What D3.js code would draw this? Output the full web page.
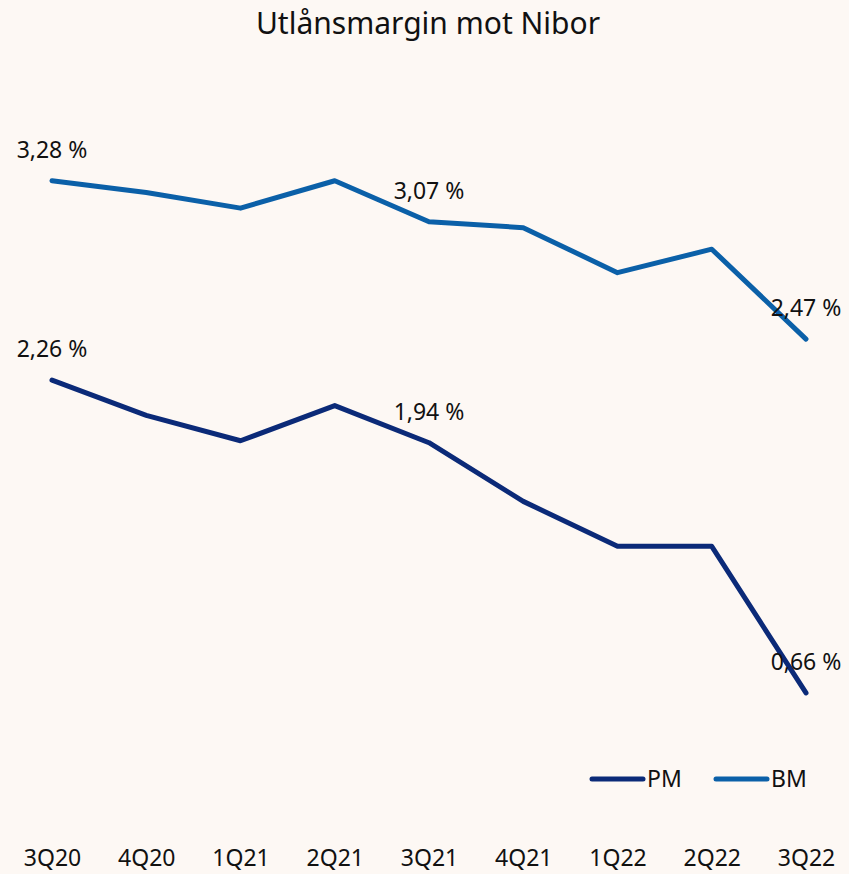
<!DOCTYPE html>
<html lang="no">
<head>
    <meta charset="UTF-8">
    <title>Utlånsmargin mot Nibor</title>
    <script src="https://d3js.org/d3.v7.min.js"></script>
    <style>
        body { margin: 0; background: #fdf8f4; }
        svg { display: block; font-family: "Noto Sans", "Lato", sans-serif; }
        .lbl { font-size: 23px; fill: #111; }
    </style>
</head>
<body>
    <svg width="849" height="874"></svg>
    <script>
        const quarters = ["3Q20", "4Q20", "1Q21", "2Q21", "3Q21", "4Q21", "1Q22", "2Q22", "3Q22"];
        const pm = [2.26, 2.08, 1.95, 2.13, 1.94, 1.64, 1.41, 1.41, 0.66];
        const bm = [3.28, 3.22, 3.14, 3.28, 3.07, 3.04, 2.81, 2.93, 2.47];
        // which points get a value label
        const labelled = ["3Q20", "3Q21", "3Q22"];

        const series = [
            { name: "PM", values: pm, color: "#0b2a78" },
            { name: "BM", values: bm, color: "#0b60a8" }
        ];

        const svg = d3.select("svg");

        svg.append("rect").attr("width", 849).attr("height", 874).attr("fill", "#fdf8f4");

        const x = d3.scalePoint().domain(quarters).range([52, 806]);
        const y = d3.scaleLinear().domain([0, 4]).range([822, 40]);

        svg.append("text")
            .attr("x", 428).attr("y", 34)
            .attr("text-anchor", "middle")
            .style("font-size", "30px").attr("fill", "#111")
            .text("Utlånsmargin mot Nibor");

        const line = d3.line()
            .x((d, i) => x(quarters[i]))
            .y(d => y(d));

        series.forEach(s => {
            svg.append("path")
                .datum(s.values)
                .attr("fill", "none")
                .attr("stroke", s.color)
                .attr("stroke-width", 5)
                .attr("stroke-linejoin", "round")
                .attr("stroke-linecap", "round")
                .attr("d", line);
        });

        series.forEach(s => {
            svg.append("g").selectAll("text")
                .data(s.values.map((v, i) => ({ q: quarters[i], v })).filter(d => labelled.includes(d.q)))
                .enter().append("text")
                .attr("class", "lbl")
                .attr("x", d => x(d.q))
                .attr("y", d => y(d.v) - 23)
                .attr("text-anchor", "middle")
                .text(d => d3.format(".2f")(d.v).replace(".", ",") + " %");
        });

        // x axis labels (no axis line)
        const xAxis = svg.append("g")
            .attr("transform", "translate(0,866)")
            .call(d3.axisBottom(x).tickSize(0).tickPadding(0));
        xAxis.select(".domain").remove();
        xAxis.selectAll("text")
            .attr("dy", 0)
            .style("font-size", "23px")
            .style("font-family", "'Noto Sans', Lato, sans-serif")
            .attr("fill", "#111");

        // legend
        const legend = svg.append("g").attr("transform", "translate(0,779)");
        const legendX = [592, 716];
        series.forEach((s, i) => {
            legend.append("line")
                .attr("x1", legendX[i]).attr("x2", legendX[i] + 51)
                .attr("y1", 0).attr("y2", 0)
                .attr("stroke", s.color)
                .attr("stroke-width", 5)
                .attr("stroke-linecap", "round");
            legend.append("text")
                .attr("class", "lbl")
                .attr("x", legendX[i] + 55).attr("y", 8)
                .text(s.name);
        });
    </script>
</body>
</html>
